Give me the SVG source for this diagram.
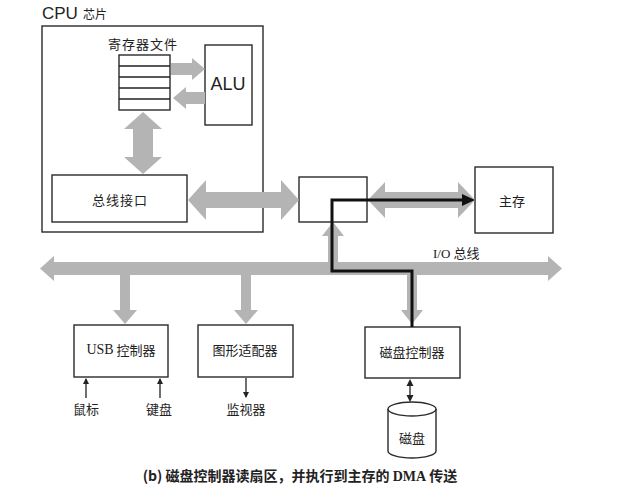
<svg xmlns="http://www.w3.org/2000/svg" width="623" height="503" viewBox="0 0 623 503">
<style>
.box{fill:#fff;stroke:#2a2a2a;stroke-width:1.4}
.ga{fill:#b4b4b4;stroke:none}
.t{font-family:"Noto Sans CJK SC",sans-serif;font-size:13px;fill:#222;text-anchor:middle;dominant-baseline:central}
.s{font-family:"Liberation Serif","Noto Sans CJK SC",serif}
.thin{stroke:#222;stroke-width:1.3;fill:none}
</style>
<defs>
<marker id="ah" markerWidth="6" markerHeight="6" refX="5" refY="3" orient="auto" markerUnits="userSpaceOnUse"><path d="M0,0 L6,3 L0,6 Z" fill="#222"/></marker>
</defs>
<rect width="623" height="503" fill="#fff"/>

<g id="cpu">
<rect x="42" y="26" width="221" height="206" fill="none" stroke="#2a2a2a" stroke-width="1.4"/>
<text x="42" y="19" font-family="Liberation Sans,sans-serif" font-size="17" fill="#222">CPU</text>
<text x="83" y="19" font-family="Noto Sans CJK SC,sans-serif" font-size="12" fill="#222">芯片</text>
</g>

<g id="regfile">
<text class="t" x="143" y="43" letter-spacing="1">寄存器文件</text>
<rect class="box" x="119" y="55" width="51" height="55"/>
<path class="thin" d="M119,66H170M119,77H170M119,88H170M119,99H170"/>
</g>

<g id="alu">
<rect class="box" x="205" y="45" width="47" height="80"/>
<text x="228" y="90" font-family="Liberation Sans,sans-serif" font-size="18" fill="#222" text-anchor="middle">ALU</text>
</g>

<g id="businterface">
<rect class="box" x="52" y="175" width="135" height="47"/>
<text class="t" x="120" y="199" letter-spacing="1">总线接口</text>
</g>

<g id="bridge">
<rect class="box" x="299" y="177" width="68" height="45"/>
</g>

<g id="mainmem">
<rect class="box" x="475" y="167" width="78" height="66"/>
<text class="t" x="512" y="200" font-size="14">主存</text>
</g>

<g id="usb">
<rect class="box" x="74" y="325" width="94" height="52"/>
<text class="t" x="121" y="349"><tspan class="s" font-size="14">USB</tspan> 控制器</text>
<text class="t" x="86" y="408" font-size="14">鼠标</text>
<text class="t" x="159" y="408" font-size="14">键盘</text>
</g>

<g id="graphics">
<rect class="box" x="198" y="325" width="95" height="52"/>
<text class="t" x="245" y="349" font-size="14">图形适配器</text>
<text class="t" x="246" y="408" font-size="14">监视器</text>
</g>

<g id="diskctrl">
<rect class="box" x="365" y="327" width="95" height="51"/>
<text class="t" x="412" y="351" font-size="14">磁盘控制器</text>
</g>

<g id="disk">
<path d="M388,409 V451 A24,7 0 0 0 436,451 V409" fill="#fff" stroke="#2a2a2a" stroke-width="1.4"/>
<ellipse cx="412" cy="409" rx="24" ry="7" fill="#fff" stroke="#2a2a2a" stroke-width="1.4"/>
<text class="t" x="412" y="437" font-size="14">磁盘</text>
</g>

<g id="connectors">
<polygon class="ga" points="143,112 162,129 153,129 153,157 162,157 143,174 124,157 133,157 133,129 124,129"/>
<polygon class="ga" points="171,63 192,63 192,58 205,69 192,80 192,75 171,75"/>
<polygon class="ga" points="205,92 186,92 186,87 173,98 186,109 186,104 205,104"/>
<polygon class="ga" points="188,200 206,180 206,192 281,192 281,180 299,200 281,220 281,208 206,208 206,220"/>
<polygon class="ga" points="368,200 385,182 385,192 458,192 458,182 475,200 458,218 458,208 385,208 385,218"/>
<polygon class="ga" points="40,268.5 54,256 54,262 548,262 548,256 562,268.5 548,281 548,275 54,275 54,281"/>
<polygon class="ga" points="333,222 344,236 338,236 338,262 328,262 328,236 322,236"/>
<polygon class="ga" points="120,275 130,275 130,310 137,310 125,324 113,310 120,310"/>
<polygon class="ga" points="241,275 251,275 251,310 258,310 246,324 234,310 241,310"/>
<polygon class="ga" points="407,275 417,275 417,310 423,310 412,324 401,310 407,310"/>
<path d="M412,327 V271 H332 V200 H464" fill="none" stroke="#111" stroke-width="3"/>
<polygon points="462,194 475,200 462,206" fill="#111"/>
<text x="433" y="258" font-family="Liberation Serif,serif" font-size="13" fill="#222">I/O <tspan font-family="Noto Sans CJK SC,sans-serif">总线</tspan></text>
<line class="thin" x1="86" y1="398" x2="86" y2="379" marker-end="url(#ah)"/>
<line class="thin" x1="160" y1="398" x2="160" y2="379" marker-end="url(#ah)"/>
<line class="thin" x1="246" y1="378" x2="246" y2="397" marker-end="url(#ah)"/>
<line class="thin" x1="410" y1="384" x2="410" y2="397"/>
<path d="M406.5,386 L410,379 L413.5,386 Z M406.5,395 L410,402 L413.5,395 Z" fill="#222"/>
</g>

<text x="300" y="481" font-family="Noto Sans CJK SC,sans-serif" font-size="14" font-weight="bold" fill="#222" text-anchor="middle">(b) 磁盘控制器读扇区，并执行到主存的 <tspan font-family="Liberation Serif,serif">DMA</tspan> 传送</text>
</svg>
